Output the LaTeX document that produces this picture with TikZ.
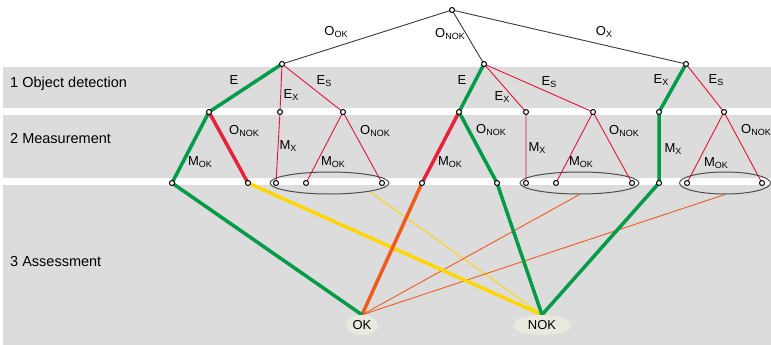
\documentclass[tikz,border=0pt]{standalone}
\usepackage{fontspec}
\setmainfont{Liberation Sans}
\usetikzlibrary{shapes.geometric,backgrounds}
\definecolor{BandGray}{HTML}{DCDCDC}
\definecolor{PathGreen}{HTML}{009B48}
\definecolor{PathRed}{HTML}{E6233F}
\definecolor{CandRed}{HTML}{E2143C}
\definecolor{PathYellow}{HTML}{FFD700}
\definecolor{PathOrange}{HTML}{EE5C1F}
\definecolor{EdgeDark}{HTML}{3A3A3A}
\definecolor{ResultFill}{HTML}{EAE9DE}
\newcommand\sub[2]{#1\raisebox{-1.2pt}{\fontsize{9}{9}\selectfont #2}}

\begin{document}
\begin{tikzpicture}[x=1pt, y=-1pt,
    dot/.style={circle, draw=black, fill=white, line width=1pt,
      inner sep=0pt, minimum size=5pt},
    grp/.style={ellipse, draw=EdgeDark!90, line width=1pt, inner sep=0pt,
      minimum height=22pt},
    result/.style={ellipse, fill=ResultFill, inner sep=0pt,
      minimum height=20pt, font=\fontsize{13}{15}\selectfont},
    lbl/.style={font=\fontsize{13}{15}\selectfont, inner sep=0pt},
    stage/.style={anchor=west, font=\fontsize{14.5}{17}\selectfont, inner sep=0pt},
    band/.style={fill=BandGray},
    branch/.style={EdgeDark, line width=0.9pt},
    alt/.style={CandRed, line width=0.9pt},
    hit/.style={PathGreen, line width=3.5pt, line join=round},
    miss/.style={PathRed, line width=3.5pt},
    yel/.style={PathYellow, line width=3.5pt},
    ora/.style={PathOrange, line width=3.5pt}
  ]
  \useasboundingbox (0,0) rectangle (771,345);

  % stages
  \node[stage] (s1) at (10,84) {1 Object detection};
  \node[stage] (s2) at (10,139) {2 Measurement};
  \node[stage] (s3) at (10,262) {3 Assessment};

  % object level
  \node[dot] (root) at (452,10) {};
  \node[dot] (a) at (282,64) {};
  \node[dot] (b) at (484,64) {};
  \node[dot] (c) at (686,64) {};

  % detection level
  \node[dot] (a1) at (209,112) {};
  \node[dot] (a2) at (280,112) {};
  \node[dot] (a3) at (343,112) {};
  \node[dot] (b1) at (459,112) {};
  \node[dot] (b2) at (526,112) {};
  \node[dot] (b3) at (593,112) {};
  \node[dot] (c1) at (659,112) {};
  \node[dot] (c2) at (724,112) {};

  % measurement level
  \node[grp, minimum width=119pt] (ga) at (329.5,183) {};
  \node[grp, minimum width=119pt] (gb) at (579.5,183) {};
  \node[grp, minimum width=91pt]  (gc) at (725,183) {};
  \node[dot] (a1a) at (172,183) {};
  \node[dot] (a1b) at (248,183) {};
  \node[dot] (a2a) at (276,183) {};
  \node[dot] (a3a) at (306,183) {};
  \node[dot] (a3b) at (382,183) {};
  \node[dot] (b1a) at (422,183) {};
  \node[dot] (b1b) at (497,183) {};
  \node[dot] (b2a) at (526,183) {};
  \node[dot] (b3a) at (556,183) {};
  \node[dot] (b3b) at (632,183) {};
  \node[dot] (c1a) at (659,183) {};
  \node[dot] (c2a) at (687,183) {};
  \node[dot] (c2b) at (762,183) {};

  % results
  \node[result, minimum width=32pt] (ok) at (362,325) {OK};
  \node[result, minimum width=58pt] (nok) at (542,325) {NOK};

  % edge labels
  \node[lbl] (lok)   at (336,32)  {\sub{O}{OK}};
  \node[lbl] (lnok)  at (450,34)  {\sub{O}{NOK}};
  \node[lbl] (lx)    at (604,32)  {\sub{O}{X}};
  \node[lbl] (lae)   at (234,80)  {E};
  \node[lbl] (laex)  at (291,95)  {\sub{E}{X}};
  \node[lbl] (laes)  at (324,81)  {\sub{E}{S}};
  \node[lbl] (la1o)  at (244,131) {\sub{O}{NOK}};
  \node[lbl] (la1m)  at (200,162) {\sub{M}{OK}};
  \node[lbl] (la2m)  at (288,146) {\sub{M}{X}};
  \node[lbl] (la3m)  at (333,162) {\sub{M}{OK}};
  \node[lbl] (la3o)  at (375,131) {\sub{O}{NOK}};
  \node[lbl] (lbe)   at (462,80)  {E};
  \node[lbl] (lbex)  at (502,97)  {\sub{E}{X}};
  \node[lbl] (lbes)  at (549,82)  {\sub{E}{S}};
  \node[lbl] (lb1o)  at (491,130) {\sub{O}{NOK}};
  \node[lbl] (lb1m)  at (450,162) {\sub{M}{OK}};
  \node[lbl] (lb2m)  at (537,148) {\sub{M}{X}};
  \node[lbl] (lb3m)  at (581,162) {\sub{M}{OK}};
  \node[lbl] (lb3o)  at (624,131) {\sub{O}{NOK}};
  \node[lbl] (lcex)  at (661,80)  {\sub{E}{X}};
  \node[lbl] (lces)  at (716,80)  {\sub{E}{S}};
  \node[lbl] (lc1m)  at (673,149) {\sub{M}{X}};
  \node[lbl] (lc2m)  at (716,163) {\sub{M}{OK}};
  \node[lbl] (lc2o)  at (756,130) {\sub{O}{NOK}};

  \begin{scope}[on background layer]
    \fill[band] (3,67) rectangle (771,108);
    \fill[band] (3,115) rectangle (771,178);
    \fill[band] (3,185) rectangle (771,345);

    \draw[branch] (root.center) -- (a.center);
    \draw[branch] (root.center) -- (b.center);
    \draw[branch] (root.center) -- (c.center);

    \draw[alt] (a.center) -- (a2.center) -- (a2a.center);
    \draw[alt] (a.center) -- (a3.center) -- (a3a.center);
    \draw[alt] (a3.center) -- (a3b.center);
    \draw[alt] (b.center) -- (b2.center) -- (b2a.center);
    \draw[alt] (b.center) -- (b3.center) -- (b3a.center);
    \draw[alt] (b3.center) -- (b3b.center);
    \draw[alt] (c.center) -- (c2.center) -- (c2a.center);
    \draw[alt] (c2.center) -- (c2b.center);

    \draw[yel, line width=0.9pt] (ga.-12) -- (nok.north);
    \draw[ora, line width=0.9pt] (gb.south) -- (ok.north);
    \draw[ora, line width=0.9pt] (gc.south) -- (ok.north);

    \draw[yel] (a1b.center) -- (nok.north);
    \draw[ora] (b1a.center) -- (ok.north);
    \draw[miss] (a1.center) -- (a1b.center);
    \draw[miss] (b1.center) -- (b1a.center);
    \draw[hit] (a.center) -- (a1.center) -- (a1a.center) -- (ok.north);
    \draw[hit] (b.center) -- (b1.center) -- (b1b.center) -- (nok.north);
    \draw[hit] (c.center) -- (c1.center) -- (c1a.center) -- (nok.north);
  \end{scope}
\end{tikzpicture}
\end{document}
